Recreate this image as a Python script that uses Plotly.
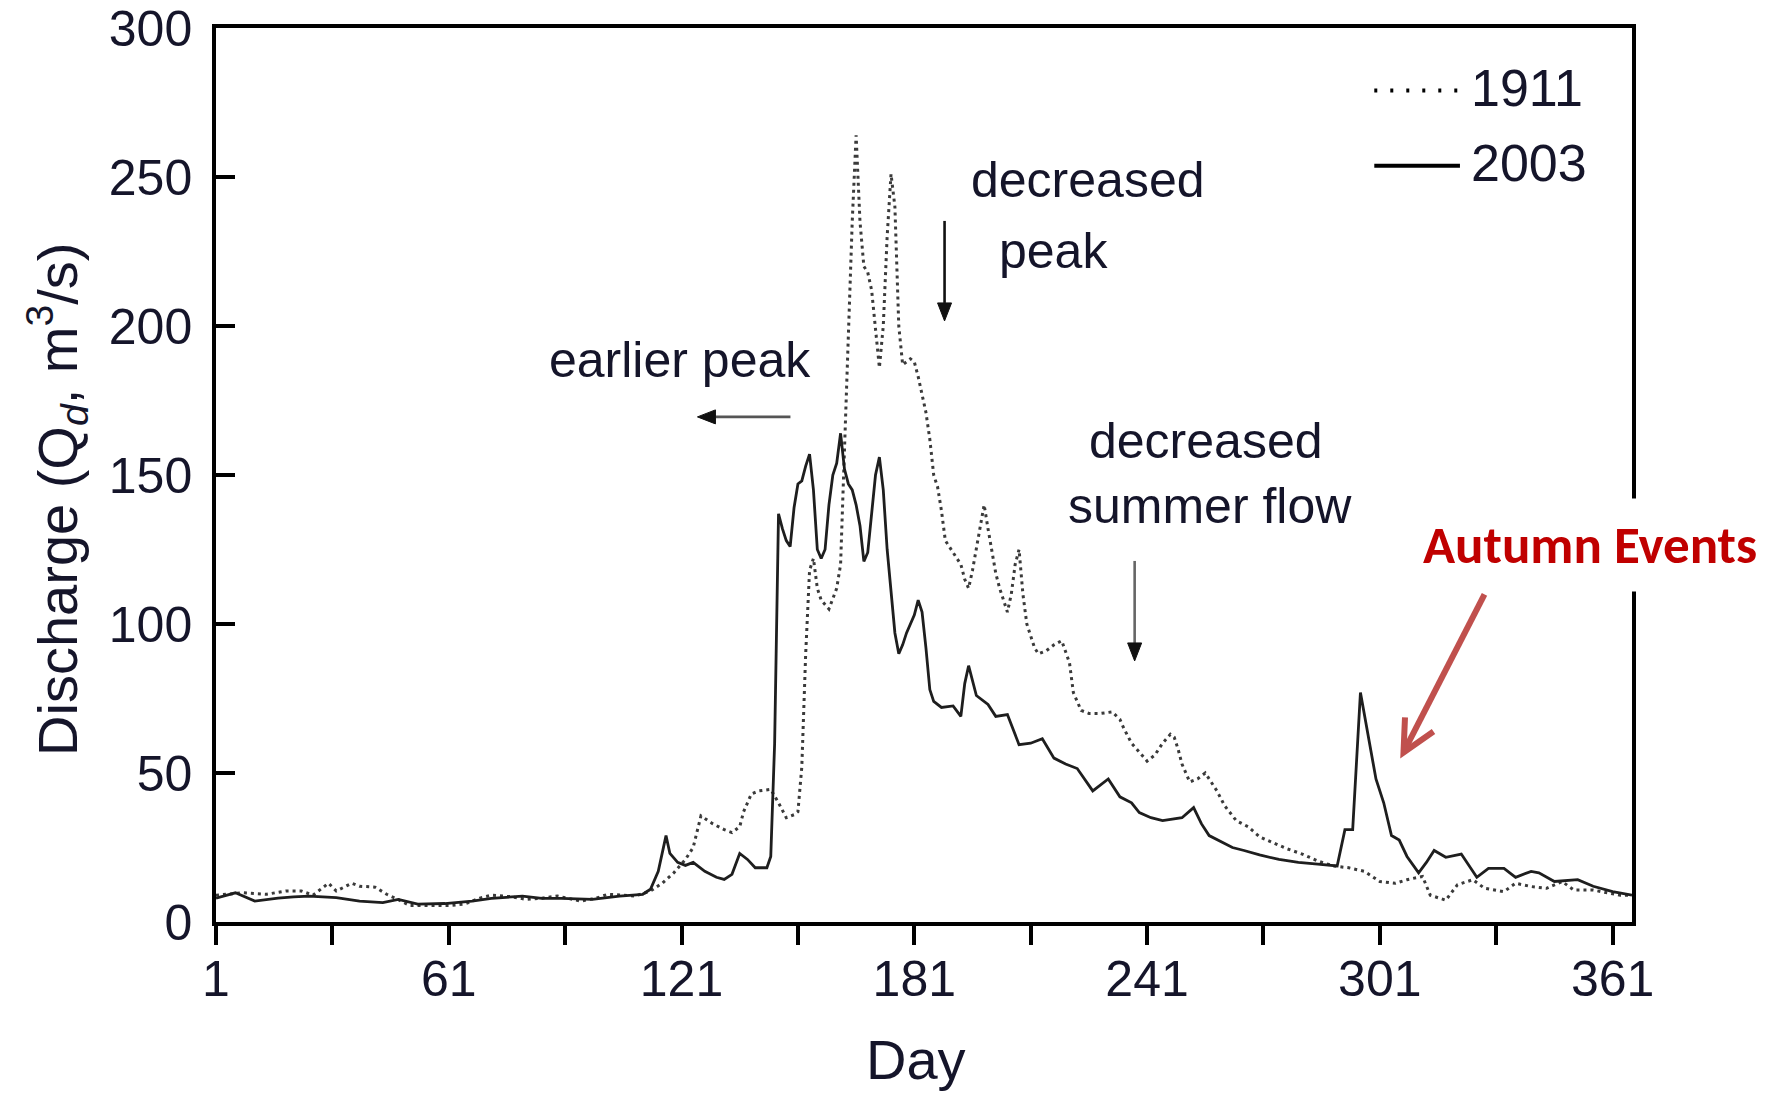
import plotly.graph_objects as go

# ---------------- data ----------------
series_names = ["1911", "2003"]

days_1911 = [1, 8, 14, 19, 23, 26, 30, 32, 36, 38, 42, 45, 48, 51, 56, 61, 65, 69, 72, 77,
             81, 85, 89, 95, 99, 102, 106, 109, 113, 116, 119, 122, 124, 126, 129, 132, 134,
             136, 137, 139, 141, 144, 146, 148, 150, 151, 152, 153, 154, 155, 156, 157, 159,
             161, 162, 163, 164, 165, 166, 167, 168, 169, 170, 171, 172, 173, 174, 175, 176,
             177, 178, 179, 180, 181, 182, 183, 184, 185, 186, 187, 188, 189, 190, 191, 192,
             193, 194, 195, 196, 197, 198, 199, 200, 201, 202, 203, 204, 205, 206, 207, 208,
             209, 210, 211, 212, 213, 215, 217, 219, 221, 222, 224, 226, 229, 232, 234, 235,
             237, 239, 241, 243, 245, 247, 248, 249, 250, 252, 254, 256, 257, 259, 261, 264,
             267, 270, 274, 277, 281, 285, 289, 293, 297, 301, 305, 308, 312, 314, 318, 321,
             325, 328, 333, 336, 340, 344, 348, 351, 356, 363, 366]
q_1911 = [9, 9.8, 9.3, 10.4, 10.4, 9, 13, 10.4, 13, 12, 11.7, 9.3, 7.5, 5.5, 5.5, 5.5, 6, 8, 9, 8.5,
          7.6, 8, 8.7, 7, 8, 9.3, 9, 8.7, 10.4, 13, 16.5, 21, 25, 35.6, 33, 31, 30,
          32, 37, 43, 44, 44.5, 40, 35, 36, 37, 52, 90, 118, 122, 112, 108, 105,
          112, 120, 160, 200, 235, 264, 235, 220, 218, 212, 200, 186, 200, 230, 251, 240,
          200, 187, 188, 189, 188, 183, 177, 171, 162, 150, 146, 138, 128, 126, 124, 122,
          120, 115, 112, 118, 125, 133, 140, 132, 125, 117, 112, 108, 104, 110, 120, 125,
          110, 100, 96, 92, 90, 91, 93, 94.4, 87, 77, 71, 70, 70, 70.5, 68, 65,
          60, 57, 54, 56, 60, 63, 62, 58, 53, 47, 48, 50, 48, 44, 39, 34,
          32, 28.6, 26.3, 24.6, 22.8, 20.5, 18.8, 18.2, 17, 13.6, 13, 14.2, 15.3, 9, 7.3, 12.5,
          14.2, 11.3, 10.2, 13, 11.9, 11.3, 13.6, 10.7, 10.7, 9, 9]

days_2003 = [1, 6, 11, 17, 21, 25, 32, 38, 44, 48, 53, 60, 67, 72, 80, 85, 90, 98, 105, 111,
             113, 115, 117, 118, 120, 122, 124, 127, 130, 132, 134, 136, 138, 140, 143, 144,
             145, 146, 147, 148, 149, 150, 151, 152, 153, 154, 155, 156, 157, 158, 159, 160,
             161, 162, 163, 164, 165, 166, 167, 168, 169, 170, 171, 172, 173, 174, 175, 176,
             177, 178, 179, 180, 181, 182, 183, 184, 185, 186, 188, 191, 193, 194, 195, 197,
             200, 202, 205, 208, 211, 214, 217, 220, 223, 227, 231, 234, 237, 239, 242, 245,
             250, 253, 255, 257, 260, 263, 266, 270, 275, 280, 285, 290, 292, 294, 296, 298,
             300, 302, 304, 306, 308, 311, 313, 315, 318, 322, 326, 329, 333, 336, 340, 342,
             346, 352, 356, 361, 366]
q_2003 = [8, 9.8, 7, 8, 8.4, 8.7, 8.2, 7, 6.5, 7.6, 6, 6.2, 7, 7.9, 8.7, 7.9, 7.9, 7.6, 8.7, 9.3,
          11, 17, 29, 23, 20, 19, 20, 17, 15, 14.3, 16, 23, 21, 18.2, 18.2, 22,
          60, 137, 132, 128, 126, 139, 147, 148, 153, 157, 145, 125, 122, 125, 140, 150,
          154, 164, 152, 147, 145, 140, 133, 121, 124, 138, 150, 156, 145, 125, 110, 97,
          90, 93, 97, 100, 103, 108, 104, 92, 78, 74, 72, 72.5, 69, 80, 86, 76,
          73, 69, 69.6, 59.5, 60, 61.5, 55, 53, 51.5, 44, 48, 42, 40, 36.7, 35, 34,
          35, 38.4, 33, 29, 27, 25, 24, 22.5, 21, 20, 19.4, 18.8, 31, 31, 77, 62,
          48, 40, 29, 27.5, 22, 16.5, 20, 24, 21.7, 22.8, 15, 18, 18, 15, 17, 16.5,
          13.6, 14.2, 12, 10.2, 9]

x_tick_vals = [1, 61, 121, 181, 241, 301, 361]
x_tick_text = ["1", "61", "121", "181", "241", "301", "361"]
x_minor_vals = [31, 91, 151, 211, 271, 331]
y_tick_vals = [0, 50, 100, 150, 200, 250, 300]

# ---------------- figure ----------------
TXT = "#15152a"
FONT = "Liberation Sans, Arial, sans-serif"

X_RANGE = [1, 366]
Y_RANGE = [0, 300]
MARGIN = dict(l=216, r=146, t=28, b=171)
W, H = 1778, 1093
PX_PER_DAY = (W - MARGIN["l"] - MARGIN["r"]) / (X_RANGE[1] - X_RANGE[0])
PX_PER_Q = (H - MARGIN["t"] - MARGIN["b"]) / (Y_RANGE[1] - Y_RANGE[0])


def off(x, y, dx_px, dy_px):
    """point offset from a data point by a pixel amount (screen y down)"""
    return x + dx_px / PX_PER_DAY, y - dy_px / PX_PER_Q


fig = go.Figure()
fig.add_trace(go.Scatter(x=days_1911, y=q_1911, mode="lines", name=series_names[0],
                         line=dict(color="#3a3a3a", width=3, dash="3px,4px"),
                         showlegend=False))
fig.add_trace(go.Scatter(x=days_2003, y=q_2003, mode="lines", name=series_names[1],
                         line=dict(color="#1e1e1e", width=2.8),
                         showlegend=False))

# manual legend (paper coordinates)
legend_rows = [(0.930, "3px,13px", 4), (0.846, "solid", 4)]
for (yy, dsh, w), nm in zip(legend_rows, series_names):
    fig.add_shape(type="line", xref="paper", yref="paper", x0=0.818, x1=0.8785, y0=yy, y1=yy,
                  line=dict(color="black", width=w, dash=dsh))
    fig.add_annotation(xref="paper", yref="paper", x=0.885, y=yy + 0.003, text=nm, showarrow=False,
                       xanchor="left", yanchor="middle", font=dict(family=FONT, size=52, color=TXT))

# text annotations
def txt(x, y, s, size=50):
    fig.add_annotation(x=x, y=y, text=s, showarrow=False, xanchor="center", yanchor="middle",
                       font=dict(family=FONT, size=size, color=TXT))

txt(120.7, 188.6, "earlier peak")
txt(225.7, 249, "decreased")
txt(216.9, 225.2, "peak")
txt(256.1, 161.4, "decreased")
txt(257.1, 139.6, "summer flow")

# axis titles as annotations
fig.add_annotation(xref="paper", yref="paper", x=0.4945, y=-0.154, text="Day", showarrow=False,
                   xanchor="center", yanchor="middle", font=dict(family=FONT, size=56, color=TXT))
fig.add_annotation(xref="paper", yref="paper", x=-0.1123, y=0.4732, textangle=-90,
                   text="Discharge (Q<sub><i>d</i></sub>, m<sup>3</sup>/s)", showarrow=False,
                   xanchor="center", yanchor="middle", font=dict(family=FONT, size=56, color=TXT))


# black arrows drawn as shapes: shaft + filled head
def arrow(x, y, ux, uy, length, shaft_color, head_color="#111111", width=2.6, hl=18, hw=7):
    tx, ty = off(x, y, ux * length, uy * length)
    bx, by = off(x, y, ux * hl, uy * hl)
    fig.add_shape(type="line", xref="x", yref="y", x0=bx, y0=by, x1=tx, y1=ty,
                  line=dict(color=shaft_color, width=width))
    px, py = -uy, ux
    l1 = off(x, y, ux * hl + px * hw, uy * hl + py * hw)
    l2 = off(x, y, ux * hl - px * hw, uy * hl - py * hw)
    path = f"M {x},{y} L {l1[0]},{l1[1]} L {l2[0]},{l2[1]} Z"
    fig.add_shape(type="path", xref="x", yref="y", path=path,
                  fillcolor=head_color, line=dict(color=head_color, width=1))


arrow(125.1, 169.5, 1, 0, 93, "#555555")
arrow(188.8, 201.7, 0, -1, 100, "#111111")
arrow(237.8, 87.6, 0, -1, 100, "#666666")

# Autumn Events label and red V arrow
fig.add_annotation(x=355.3, y=126.5, text="<b>Autumn Events</b>", showarrow=False,
                   xanchor="center", yanchor="middle", bgcolor="white", borderpad=14,
                   font=dict(family="Carlito, Lato, sans-serif", size=53, color="#c00000"))
RED = "#c0504d"
tip = (307.1, 56.9)
tail = off(*tip, 81, -158)
w1 = off(*tip, 1.5, -35)
w2 = off(*tip, 30, -21)
fig.add_shape(type="line", xref="x", yref="y", x0=tip[0], y0=tip[1], x1=tail[0], y1=tail[1],
              line=dict(color=RED, width=6))
fig.add_shape(type="path", xref="x", yref="y",
              path=f"M {w1[0]},{w1[1]} L {tip[0]},{tip[1]} L {w2[0]},{w2[1]}",
              line=dict(color=RED, width=6))

fig.update_layout(
    width=W, height=H,
    margin=dict(**MARGIN, autoexpand=False),
    paper_bgcolor="white", plot_bgcolor="white",
    font=dict(family=FONT, color=TXT),
    showlegend=False,
)
fig.update_xaxes(range=X_RANGE, tickmode="array", tickvals=x_tick_vals, ticktext=x_tick_text,
                 ticks="outside", ticklen=19, tickwidth=3.5, tickcolor="black",
                 minor=dict(tickmode="array", tickvals=x_minor_vals, ticks="outside",
                            ticklen=19, tickwidth=3.5, tickcolor="black", showgrid=False),
                 showline=True, linewidth=3.5, linecolor="black", mirror=True,
                 showgrid=False, zeroline=False, ticklabeloverflow="allow", automargin=False,
                 ticklabelstandoff=-9,
                 tickfont=dict(family=FONT, size=50, color=TXT))
fig.update_yaxes(range=Y_RANGE, tickmode="array", tickvals=y_tick_vals,
                 ticks="inside", ticklen=19, tickwidth=3.5, tickcolor="black",
                 showline=True, linewidth=3.5, linecolor="black", mirror=True,
                 showgrid=False, zeroline=False, ticklabeloverflow="allow", automargin=False,
                 ticklabelstandoff=10,
                 tickfont=dict(family=FONT, size=50, color=TXT))

fig.write_html("out.html")
